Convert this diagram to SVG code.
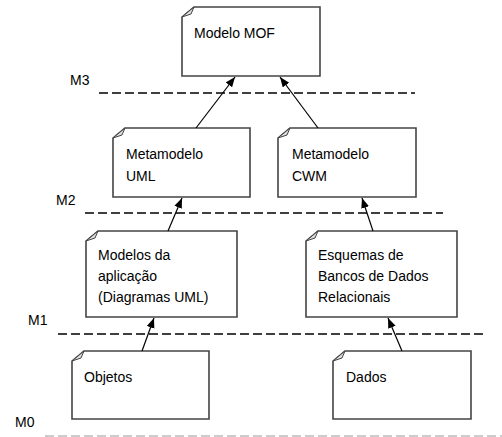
<svg xmlns="http://www.w3.org/2000/svg" width="502" height="437" viewBox="0 0 502 437">
<style>
.box{fill:#fff;stroke:#444;stroke-width:1.6}
.flap{fill:#ddd;stroke:#444;stroke-width:1}
.t{font-family:"Liberation Sans",Arial,sans-serif;font-size:14px;fill:#000}
.dash{stroke:#000;stroke-width:1.3;stroke-dasharray:9,4;fill:none}
.dash0{stroke:#999;stroke-width:1.2;stroke-dasharray:9,4;fill:none}
.c{stroke:#000;stroke-width:1.2;fill:none;marker-end:url(#ah)}
</style>
<defs>
<marker id="ah" markerUnits="userSpaceOnUse" markerWidth="11" markerHeight="9" refX="10" refY="4" orient="auto">
<path d="M0,0 L10,4 L0,8 Z" fill="#000"/>
</marker>
</defs>
<rect width="502" height="437" fill="#fff"/>
<g id="levels">
<line class="dash" x1="99" y1="93" x2="415" y2="93"/>
<line class="dash" x1="85" y1="213" x2="443" y2="213"/>
<line class="dash" x1="58" y1="334" x2="483" y2="334"/>
<line class="dash0" x1="45" y1="436" x2="502" y2="436"/>
<text class="t" x="70" y="85">M3</text>
<text class="t" x="56" y="205">M2</text>
<text class="t" x="28" y="325">M1</text>
<text class="t" x="15" y="427">M0</text>
</g>
<g id="mof">
<path class="box" d="M182,17 L194,7 L320,7 L320,76 L182,76 Z"/>
<path class="flap" d="M182,17 L194,7 L191,14 Z"/>
<text class="t" x="194" y="38">Modelo MOF</text>
</g>
<g id="meta-uml">
<path class="box" d="M113,138 L125,128 L250,128 L250,197 L113,197 Z"/>
<path class="flap" d="M113,138 L125,128 L122,135 Z"/>
<text class="t" x="126" y="159">Metamodelo</text>
<text class="t" x="126" y="181">UML</text>
</g>
<g id="meta-cwm">
<path class="box" d="M278,138 L290,128 L416,128 L416,197 L278,197 Z"/>
<path class="flap" d="M278,138 L290,128 L287,135 Z"/>
<text class="t" x="292" y="159">Metamodelo</text>
<text class="t" x="292" y="181">CWM</text>
</g>
<g id="modelos">
<path class="box" d="M86,241 L98,231 L237,231 L237,317 L86,317 Z"/>
<path class="flap" d="M86,241 L98,231 L95,238 Z"/>
<text class="t" x="98" y="260">Modelos da</text>
<text class="t" x="98" y="281">aplicação</text>
<text class="t" x="98" y="302">(Diagramas UML)</text>
</g>
<g id="esquemas">
<path class="box" d="M306,241 L318,231 L457,231 L457,317 L306,317 Z"/>
<path class="flap" d="M306,241 L318,231 L315,238 Z"/>
<text class="t" x="318" y="260">Esquemas de</text>
<text class="t" x="318" y="281">Bancos de Dados</text>
<text class="t" x="318" y="302">Relacionais</text>
</g>
<g id="objetos">
<path class="box" d="M72,361 L84,351 L209,351 L209,419 L72,419 Z"/>
<path class="flap" d="M72,361 L84,351 L81,358 Z"/>
<text class="t" x="84" y="382">Objetos</text>
</g>
<g id="dados">
<path class="box" d="M333,361 L345,351 L471,351 L471,419 L333,419 Z"/>
<path class="flap" d="M333,361 L345,351 L342,358 Z"/>
<text class="t" x="346" y="382">Dados</text>
</g>
<g id="connectors">
<line class="c" x1="196" y1="128" x2="235" y2="77"/>
<line class="c" x1="318" y1="128" x2="280" y2="77"/>
<line class="c" x1="168" y1="231" x2="182" y2="198"/>
<line class="c" x1="373" y1="231" x2="362" y2="198"/>
<line class="c" x1="142" y1="351" x2="154" y2="318"/>
<line class="c" x1="402" y1="351" x2="388" y2="318"/>
</g>
</svg>
